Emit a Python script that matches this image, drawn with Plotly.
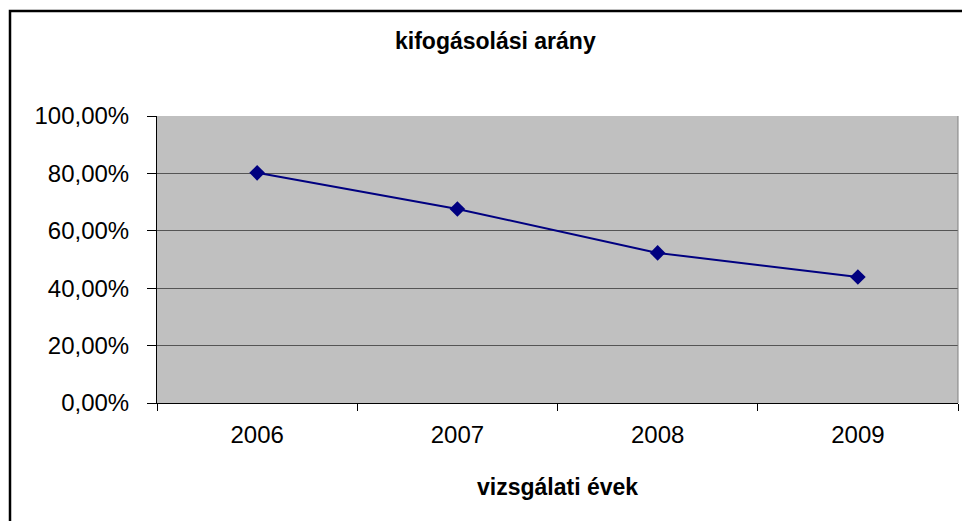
import plotly.graph_objects as go

years = ["2006", "2007", "2008", "2009"]
rates = [0.802, 0.676, 0.523, 0.439]
chart_title = "kifogásolási arány"
x_title = "vizsgálati évek"

W, H = 962, 521
L, R, T, B = 157, 4, 116, 118
pw = W - L - R
ph = H - T - B

def px_x(x):
    return (x - L) / pw

def px_y(y):
    return (H - B - y) / ph

fig = go.Figure()
fig.add_trace(go.Scatter(
    x=years, y=rates, mode="lines+markers",
    line=dict(color="#000080", width=2),
    marker=dict(symbol="diamond", size=12, color="#000080"),
    showlegend=False, hoverinfo="skip",
))

fig.update_layout(
    width=W, height=H,
    margin=dict(l=L, r=R, t=T, b=B, pad=0),
    paper_bgcolor="white",
    plot_bgcolor="#C0C0C0",
    separators=", ",
    font=dict(family="Liberation Sans, Arial, sans-serif", color="black"),
    xaxis=dict(
        type="category", range=[-0.5, 3.5],
        showgrid=False, showline=True, linecolor="black", linewidth=1,
        ticks="outside", tickson="boundaries", ticklen=7, tickcolor="black",
        tickfont=dict(size=24), ticklabelstandoff=10, zeroline=False,
    ),
    yaxis=dict(
        range=[0, 1], dtick=0.2, tickformat=".2%",
        showgrid=True, gridcolor="#555555", gridwidth=1,
        showline=True, linecolor="black", linewidth=1,
        ticks="outside", ticklen=9, tickcolor="black",
        tickfont=dict(size=24), ticklabelstandoff=13, zeroline=False,
    ),
    shapes=[
        dict(type="line", xref="paper", yref="paper", x0=1, x1=1, y0=0, y1=1,
             line=dict(color="#808080", width=1)),
        dict(type="rect", xref="paper", yref="paper",
             x0=px_x(10), x1=px_x(980), y0=px_y(540), y1=px_y(11),
             line=dict(color="black", width=2.5), fillcolor="rgba(0,0,0,0)"),
    ],
    annotations=[
        dict(text="<b>" + chart_title + "</b>", xref="paper", yref="paper",
             x=px_x(495), y=px_y(41), xanchor="center", yanchor="middle",
             showarrow=False, font=dict(size=23)),
        dict(text="<b>" + x_title + "</b>", xref="paper", yref="paper",
             x=px_x(557), y=px_y(487), xanchor="center", yanchor="middle",
             showarrow=False, font=dict(size=23)),
    ],
)

fig.write_html(
    "out.html",
    config={"displayModeBar": False},
    post_script="document.body.style.margin='0';document.body.style.overflow='hidden';",
)
